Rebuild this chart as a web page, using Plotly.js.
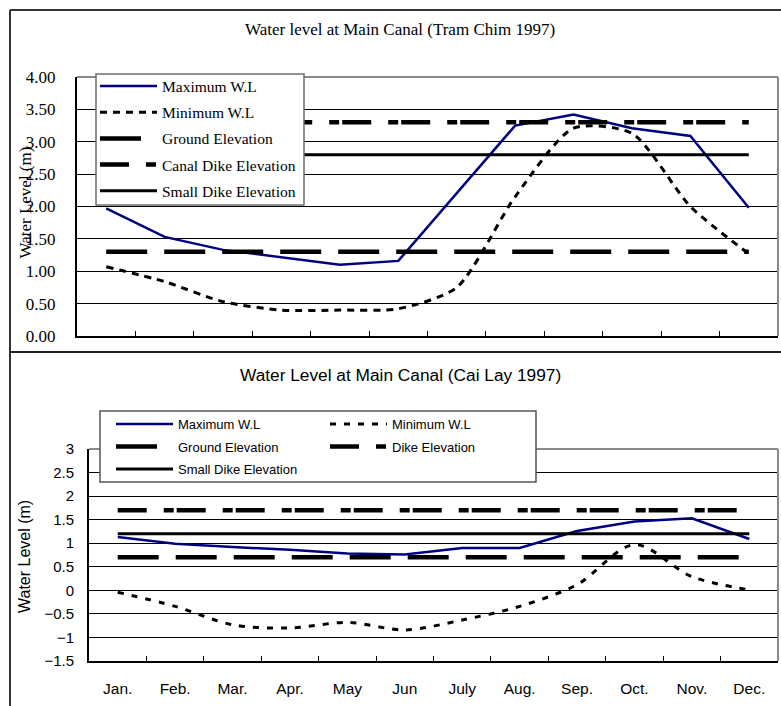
<!DOCTYPE html>
<html>
<head>
<meta charset="utf-8">
<script src="https://cdn.plot.ly/plotly-3.0.1.min.js"></script>
<style>html,body{margin:0;padding:0;background:#fff;}#chart{width:781px;height:706px;}</style>
</head>
<body>
<div id="chart"></div>
<script>
// ---- data ----
const months = ['Jan.','Feb.','Mar.','Apr.','May','Jun','July','Aug.','Sep.','Oct.','Nov.','Dec.'];

// Tram Chim 1997
const tcMax = [1.97,1.53,1.33,1.22,1.10,1.16,2.20,3.25,3.42,3.21,3.09,1.98];
const tcMin = [1.07,0.84,0.53,0.40,0.40,0.42,0.75,2.15,3.21,3.13,2.00,1.27];
const tcGround = [1.30,1.30,1.30,1.30,1.30,1.30,1.30,1.30,1.30,1.30,1.30,1.30];
const tcCanalDike = [3.30,3.30,3.30,3.30,3.30,3.30,3.30,3.30,3.30,3.30,3.30,3.30];
const tcSmallDike = [2.80,2.80,2.80,2.80,2.80,2.80,2.80,2.80,2.80,2.80,2.80,2.80];

// Cai Lay 1997
const clMax = [1.13,0.99,0.92,0.86,0.78,0.76,0.90,0.90,1.26,1.46,1.53,1.09];
const clMin = [-0.04,-0.34,-0.73,-0.80,-0.68,-0.84,-0.63,-0.34,0.12,0.97,0.29,0.01];
const clGround = [0.7,0.7,0.7,0.7,0.7,0.7,0.7,0.7,0.7,0.7,0.7,0.7];
const clDike = [1.7,1.7,1.7,1.7,1.7,1.7,1.7,1.7,1.7,1.7,1.7,1.7];
const clSmallDike = [1.2,1.2,1.2,1.2,1.2,1.2,1.2,1.2,1.2,1.2,1.2,1.2];

const topNames = ['Maximum W.L','Minimum W.L','Ground Elevation','Canal Dike Elevation','Small Dike Elevation'];
const botNames = ['Maximum W.L','Minimum W.L','Ground Elevation','Dike Elevation','Small Dike Elevation'];

// ---- layout helpers ----
const W = 781, H = 706;
const px = v => v / W;
const py = v => 1 - v / H;

const SERIF = 'Liberation Serif, Times New Roman, serif';
const SANS = 'Liberation Sans, Arial, sans-serif';

const NAVY = '#000080';
const styles = {
  max:   {color: NAVY, width: 2.5, dash: 'solid'},
  minT:  {color: '#000', width: 3, dash: '7px,6px', shape: 'spline', smoothing: 0.7},
  minB:  {color: '#000', width: 3, dash: '6px,8px', shape: 'spline', smoothing: 0.9},
  ground:{color: '#000', width: 4.5, dash: '41px,17px'},
  dike:  {color: '#000', width: 4.5, dash: '29px,17px,10px,3px'},
  small: {color: '#000', width: 3, dash: 'solid'}
};

function tr(y, name, st, xa, ya, legend, group) {
  return {
    type: 'scatter', mode: 'lines', x: months, y: y, name: name,
    xaxis: xa, yaxis: ya, legend: legend, legendgroup: group,
    line: Object.assign({}, st), hoverinfo: 'skip'
  };
}

const data = [
  tr(tcMax, topNames[0], styles.max, 'x', 'y', 'legend', 'a'),
  tr(tcMin, topNames[1], styles.minT, 'x', 'y', 'legend', 'b'),
  tr(tcGround, topNames[2], styles.ground, 'x', 'y', 'legend', 'c'),
  tr(tcCanalDike, topNames[3], styles.dike, 'x', 'y', 'legend', 'd'),
  tr(tcSmallDike, topNames[4], styles.small, 'x', 'y', 'legend', 'e'),

  tr(clMax, botNames[0], styles.max, 'x2', 'y2', 'legend2', 'f'),
  tr(clMin, botNames[1], styles.minB, 'x2', 'y2', 'legend2', 'g'),
  tr(clGround, botNames[2], styles.ground, 'x2', 'y2', 'legend3', 'h'),
  tr(clDike, botNames[3], styles.dike, 'x2', 'y2', 'legend3', 'i'),
  tr(clSmallDike, botNames[4], styles.small, 'x2', 'y2', 'legend4', 'j')
];

const xCommon = {
  type: 'category', categoryorder: 'array', categoryarray: months,
  range: [-0.5, 11.5], showgrid: false, zeroline: false,
  showline: true, linecolor: '#000', linewidth: 2,
  ticks: 'inside', ticklen: 5, tickwidth: 1, tickcolor: '#000', tickson: 'boundaries',
  fixedrange: true
};
const yCommon = {
  dtick: 0.5, showgrid: true, gridcolor: '#000', gridwidth: 1, zeroline: false,
  showline: true, linecolor: '#000', linewidth: 2, ticks: '', fixedrange: true
};

const legendCommon = {
  xanchor: 'left', yanchor: 'top', bgcolor: 'rgba(0,0,0,0)', borderwidth: 0,
  itemwidth: 57, orientation: 'h', entrywidth: 142,
  font: {family: SANS, size: 13, color: '#000'}, itemclick: false, itemdoubleclick: false
};

const layout = {
  width: W, height: H,
  margin: {l: 0, r: 0, t: 0, b: 0, pad: 0},
  paper_bgcolor: '#fff', plot_bgcolor: '#fff',
  showlegend: true,
  xaxis: Object.assign({}, xCommon, {domain: [px(77), px(778)], anchor: 'y', showticklabels: false}),
  yaxis: Object.assign({}, yCommon, {domain: [py(336), py(77)], anchor: 'x', range: [0, 4],
    tickformat: '.2f', ticklabelstandoff: 16,
    tickfont: {family: SERIF, size: 17, color: '#000'}}),
  xaxis2: Object.assign({}, xCommon, {domain: [px(89), px(778)], anchor: 'y2', showticklabels: true,
    ticklabelstandoff: 12, tickfont: {family: SANS, size: 15.5, color: '#000'}}),
  yaxis2: Object.assign({}, yCommon, {domain: [py(661), py(449)], anchor: 'x2', range: [-1.5, 3],
    ticklabelstandoff: 10, tickfont: {family: SANS, size: 15, color: '#000'}}),
  legend: {
    x: px(95), y: py(69.5), xanchor: 'left', yanchor: 'top',
    bgcolor: 'rgba(0,0,0,0)', borderwidth: 0,
    itemwidth: 57, tracegroupgap: 3, traceorder: 'grouped',
    font: {family: SERIF, size: 15.5, color: '#000'}, itemclick: false, itemdoubleclick: false
  },
  legend2: Object.assign({}, legendCommon, {x: px(111), y: py(409)}),
  legend3: Object.assign({}, legendCommon, {x: px(111), y: py(431.5)}),
  legend4: Object.assign({}, legendCommon, {x: px(111), y: py(454)}),
  annotations: [
    {text: 'Water level at Main Canal (Tram Chim 1997)', xref: 'paper', yref: 'paper',
     x: px(400), y: py(30), xanchor: 'center', yanchor: 'middle', showarrow: false,
     font: {family: SERIF, size: 17, color: '#000'}},
    {text: 'Water Level (m)', xref: 'paper', yref: 'paper', textangle: -90,
     x: px(24.5), y: py(203), xanchor: 'center', yanchor: 'middle', showarrow: false,
     font: {family: SERIF, size: 17, color: '#000'}},
    {text: 'Water Level at Main Canal (Cai Lay 1997)', xref: 'paper', yref: 'paper',
     x: px(400), y: py(375), xanchor: 'center', yanchor: 'middle', showarrow: false,
     font: {family: SANS, size: 17.3, color: '#000'}},
    {text: 'Water Level (m)', xref: 'paper', yref: 'paper', textangle: -90,
     x: px(24), y: py(557), xanchor: 'center', yanchor: 'middle', showarrow: false,
     font: {family: SANS, size: 16, color: '#000'}}
  ],
  shapes: [
    // outer frame
    {type: 'line', xref: 'paper', yref: 'paper', x0: px(10), x1: 1, y0: py(10), y1: py(10), line: {color: '#333', width: 2}},
    {type: 'line', xref: 'paper', yref: 'paper', x0: px(10), x1: px(10), y0: py(10), y1: 0, line: {color: '#333', width: 2}},
    {type: 'line', xref: 'paper', yref: 'paper', x0: px(10), x1: 1, y0: py(352), y1: py(352), line: {color: '#222', width: 2}},
    // gray plot borders (top, right)
    {type: 'line', xref: 'x domain', yref: 'y domain', x0: 0, x1: 1, y0: 1, y1: 1, line: {color: '#8a8a8a', width: 2}, layer: 'above'},
    {type: 'line', xref: 'x domain', yref: 'y domain', x0: 1, x1: 1, y0: 0, y1: 1, line: {color: '#8a8a8a', width: 2}, layer: 'above'},
    {type: 'line', xref: 'x2 domain', yref: 'y2 domain', x0: 0, x1: 1, y0: 1, y1: 1, line: {color: '#8a8a8a', width: 2}, layer: 'above'},
    {type: 'line', xref: 'x2 domain', yref: 'y2 domain', x0: 1, x1: 1, y0: 0, y1: 1, line: {color: '#8a8a8a', width: 2}, layer: 'above'},
    // top legend box
    {type: 'rect', xref: 'paper', yref: 'paper', x0: px(96), x1: px(304), y0: py(205), y1: py(74),
     fillcolor: '#fff', line: {color: '#6e6e6e', width: 1.5}, layer: 'above'},
    // bottom legend box
    {type: 'rect', xref: 'paper', yref: 'paper', x0: px(100), x1: px(536), y0: py(482), y1: py(411),
     fillcolor: '#fff', line: {color: '#555', width: 1.5}, layer: 'above'}
  ]
};

Plotly.newPlot('chart', data, layout, {displayModeBar: false, staticPlot: true});
</script>
</body>
</html>
